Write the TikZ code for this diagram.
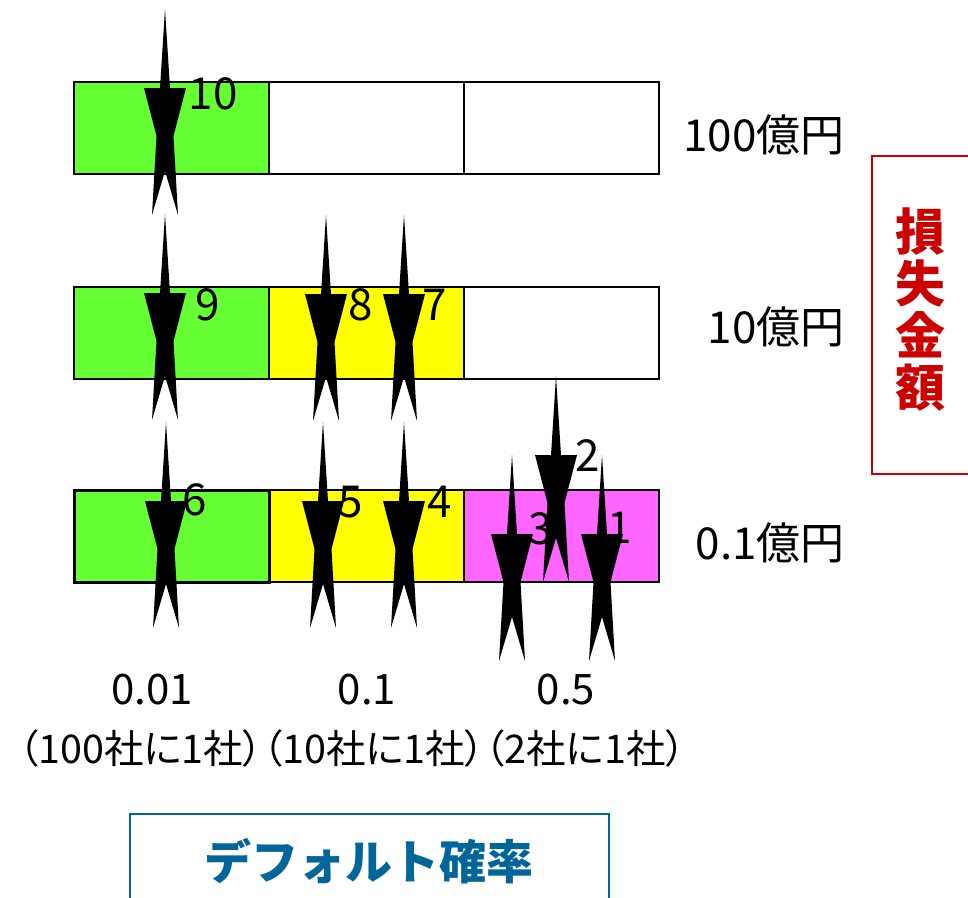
\documentclass[tikz,border=0pt]{standalone}
\usepackage{fontspec}
\setmainfont{Noto Sans CJK JP}
\newfontfamily\jpp[RawFeature=+palt]{Noto Sans CJK JP}
\definecolor{lgreen}{HTML}{66FF33}
\definecolor{lyellow}{HTML}{FFFF00}
\definecolor{lpink}{HTML}{FF66FF}
\definecolor{dred}{HTML}{CC0000}
\definecolor{dblue}{HTML}{006699}
\tikzset{
  cell/.style={rectangle, draw=black, line width=1.5pt, minimum width=195pt, minimum height=92pt, inner sep=0pt, anchor=north west},
  numlbl/.style={inner sep=0pt, font=\fontsize{44}{48}\selectfont},
  vallbl/.style={inner sep=0pt, anchor=east, font=\fontsize{44}{48}\selectfont},
  problbl/.style={inner sep=0pt, font=\fontsize{42}{46}\selectfont},
  spikearrow/.pic={
    \fill[black] (0,0) -- (5,79) -- (21,79) -- (8.5,127) -- (13,206) -- (0,162)
      -- (-13,206) -- (-8.5,127) -- (-21,79) -- (-5,79) -- cycle;
  }
}
\begin{document}
\begin{tikzpicture}[x=1pt,y=-1pt]
\clip (0,0) rectangle (968,897);
\fill[white] (0,0) rectangle (968,897);
% row 1 (100 oku)
\node[cell, fill=lgreen] (r1a) at (73,81) {};
\node[cell, fill=white] (r1b) at (268,81) {};
\node[cell, fill=white] (r1c) at (463,81) {};
% row 2 (10 oku)
\node[cell, fill=lgreen] (r2a) at (73,286) {};
\node[cell, fill=lyellow] (r2b) at (268,286) {};
\node[cell, fill=white] (r2c) at (463,286) {};
% row 3 (0.1 oku)
\node[cell, fill=lyellow] (r3b) at (268,489) {};
\node[cell, fill=lpink] (r3c) at (463,489) {};
\node[cell, fill=lgreen, line width=3pt] (r3a) at (73,489) {};
% value labels
\node[vallbl] (v100) at (845,135) {100億円};
\node[vallbl] (v10) at (845,327) {10億円};
\node[vallbl] (v01) at (845,543) {0.1億円};
% number labels
\node[numlbl] (n10) at (213,94) {10};
\node[numlbl] (n9) at (208,305) {9};
\node[numlbl] (n8) at (361,305) {8};
\node[numlbl] (n7) at (435,305) {7};
\node[numlbl] (n6) at (195,500) {6};
\node[numlbl] (n5) at (351,502) {5};
\node[numlbl] (n4) at (440,502) {4};
\node[numlbl] (n3) at (541,529) {3};
\node[numlbl] (n2) at (588,456) {2};
\node[numlbl] (n1) at (620,528) {1};
% arrows
\pic at (165,9) {spikearrow};
\pic at (165,214) {spikearrow};
\pic at (326,215) {spikearrow};
\pic at (404,215) {spikearrow};
\pic at (166,422) {spikearrow};
\pic at (323,422) {spikearrow};
\pic at (404,422) {spikearrow};
\pic at (556,376) {spikearrow};
\pic at (512,455) {spikearrow};
\pic at (602,455) {spikearrow};
% probability labels
\node[problbl] (p1) at (152,690) {0.01};
\node[problbl] (p2) at (367,690) {0.1};
\node[problbl] (p3) at (566,690) {0.5};
\node[inner sep=0pt, font=\jpp\fontsize{39.5}{44}\selectfont] (ratio) at (352,748) {（100社に1社）（10社に1社）（2社に1社）};
% loss amount box
\draw[dred, line width=2pt] (872,156) rectangle (985,474);
\node[dred, inner sep=0pt, align=center, font=\fontsize{50}{52}\selectfont\bfseries] (loss) at (920,309) {損\\失\\金\\額};
% default probability box
\draw[dblue, line width=2pt] (130,814) rectangle (609,910);
\node[dblue, inner sep=0pt, font=\fontsize{47}{50}\selectfont\bfseries] (dp) at (369,861) {デフォルト確率};
\end{tikzpicture}
\end{document}
